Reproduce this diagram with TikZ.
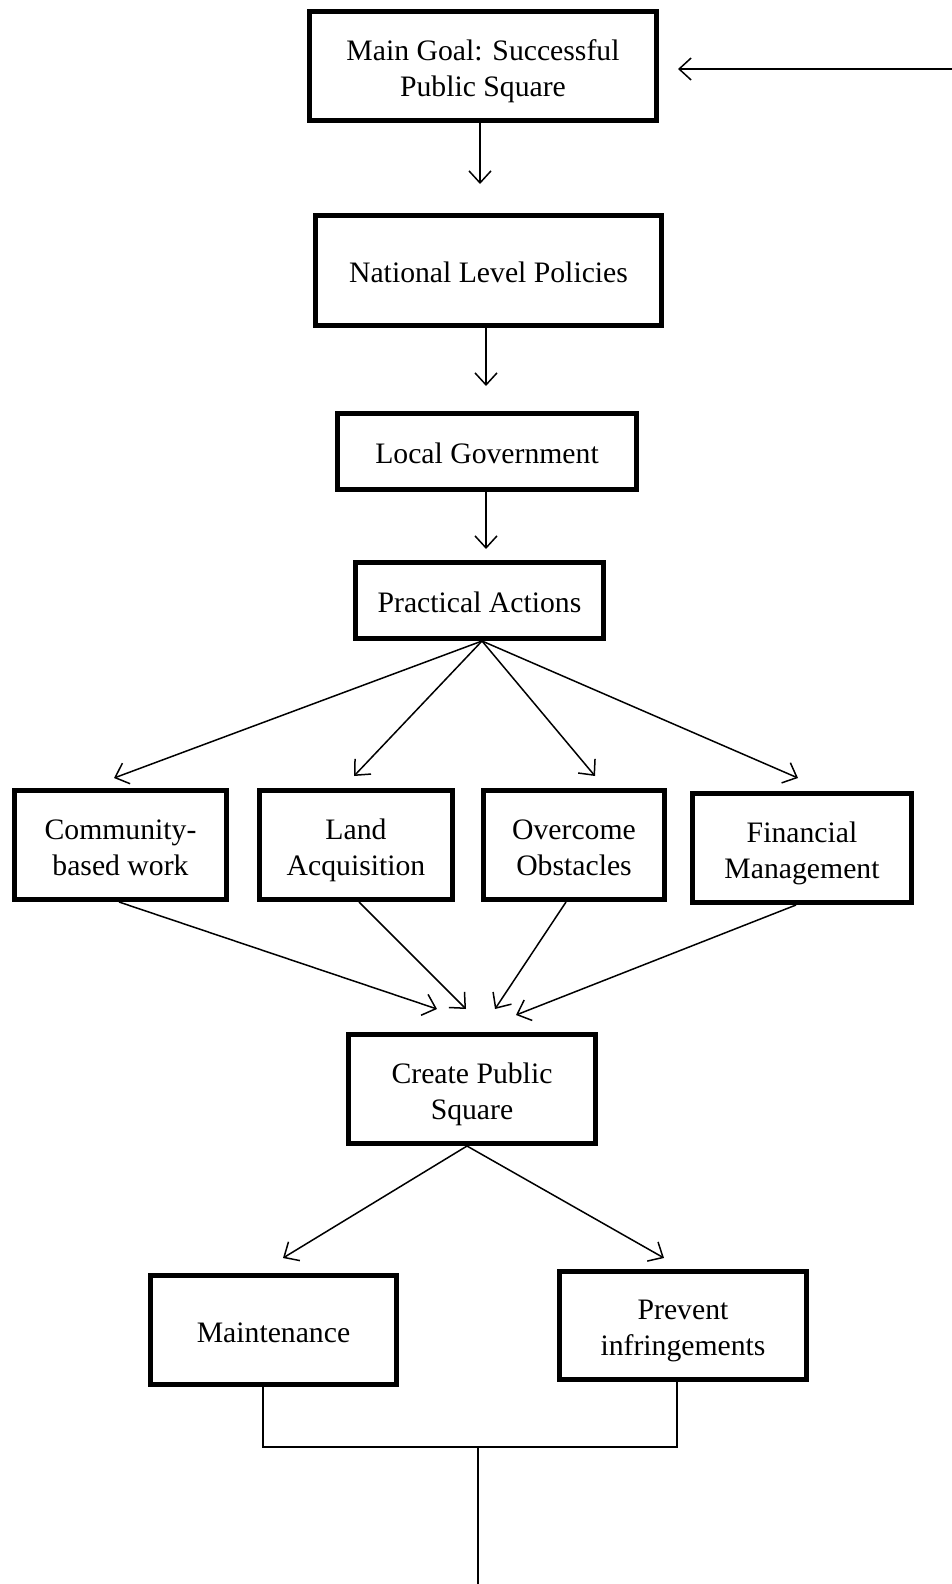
\documentclass[tikz,border=0pt]{standalone}
\usepackage{fontspec}
\setmainfont{Liberation Serif}
\usepackage{graphicx}
\usepackage{tikz}
\usetikzlibrary{arrows.meta}

\newcommand{\boxtext}[1]{\raisebox{-5pt}[\height][\depth]{\begin{tabular}{@{}c@{}}#1\end{tabular}}}
\tikzset{
  stage/.style={draw, line width=5pt, inner sep=0pt, fill=white,
    font=\fontsize{29.7}{36}\selectfont},
  conn/.style={line width=1.5pt},
  tip/.style={-{Straight Barb[length=12pt,width=22pt]}}
}

\begin{document}
\begin{tikzpicture}[x=1pt, y=-1pt]
\useasboundingbox (0,0) rectangle (952,1584);
\node [stage, minimum width=347, minimum height=109] (goal) at (483,66) {\boxtext{Main Goal: Successful\\Public Square}};
\node [stage, minimum width=346, minimum height=110] (national) at (488.5,270.5) {\boxtext{National Level Policies}};
\node [stage, minimum width=299, minimum height=76] (local) at (487,451.5) {\boxtext{Local Government}};
\node [stage, minimum width=248, minimum height=76] (practical) at (479.5,600.5) {\boxtext{Practical Actions}};
\node [stage, minimum width=212, minimum height=109] (community) at (120.5,845) {\boxtext{Community-\\based work}};
\node [stage, minimum width=193, minimum height=109] (land) at (356,845) {\boxtext{Land\\Acquisition}};
\node [stage, minimum width=181, minimum height=109] (obstacles) at (574,845) {\boxtext{Overcome\\Obstacles}};
\node [stage, minimum width=219, minimum height=109] (finance) at (802,848) {\boxtext{Financial\\Management}};
\node [stage, minimum width=247, minimum height=109] (create) at (472,1089) {\boxtext{Create Public\\Square}};
\node [stage, minimum width=246, minimum height=109] (maintain) at (273.5,1330) {\boxtext{Maintenance}};
\node [stage, minimum width=247, minimum height=108] (prevent) at (683,1325.5) {\boxtext{Prevent\\infringements}};

\coordinate (feedback) at (952,69);
\coordinate (goal-in) at (678,69);
\coordinate (national-in) at (480,184);
\coordinate (local-in) at (486,386);
\coordinate (practical-in) at (486,549);
\coordinate (community-in) at (114,778);
\coordinate (land-in) at (354,776);
\coordinate (obstacles-in) at (595,776);
\coordinate (finance-in) at (798,778);
\coordinate (create-in1) at (437,1009);
\coordinate (create-in2) at (466,1009);
\coordinate (create-in3) at (495,1009);
\coordinate (create-in4) at (516,1015);
\coordinate (maintain-in) at (283,1258);
\coordinate (prevent-in) at (664,1258);
\coordinate (join) at (478,1447);
\coordinate (exit) at (478,1584);

\draw [conn, tip] (feedback) -- (goal-in);
\draw [conn, tip] ([xshift=-3pt]goal.south) -- (national-in);
\draw [conn, tip] ([xshift=-2.5pt]national.south) -- (local-in);
\draw [conn, tip] ([xshift=-1pt]local.south) -- (practical-in);
\draw [conn, tip] ([xshift=2.5pt]practical.south) -- (community-in);
\draw [conn, tip] ([xshift=2.5pt]practical.south) -- (land-in);
\draw [conn, tip] ([xshift=2.5pt]practical.south) -- (obstacles-in);
\draw [conn, tip] ([xshift=2.5pt]practical.south) -- (finance-in);
\draw [conn, tip] ([xshift=-1.5pt]community.south) -- (create-in1);
\draw [conn, tip] ([xshift=3pt]land.south) -- (create-in2);
\draw [conn, tip] ([xshift=-8pt]obstacles.south) -- (create-in3);
\draw [conn, tip] ([xshift=-6pt]finance.south) -- (create-in4);
\draw [conn, tip] ([xshift=-5pt]create.south) -- (maintain-in);
\draw [conn, tip] ([xshift=-5pt]create.south) -- (prevent-in);
\draw [conn] ([xshift=-10.5pt]maintain.south) |- (join) -| ([xshift=-6pt]prevent.south);
\draw [conn] (join) -- (exit);
\end{tikzpicture}
\end{document}
